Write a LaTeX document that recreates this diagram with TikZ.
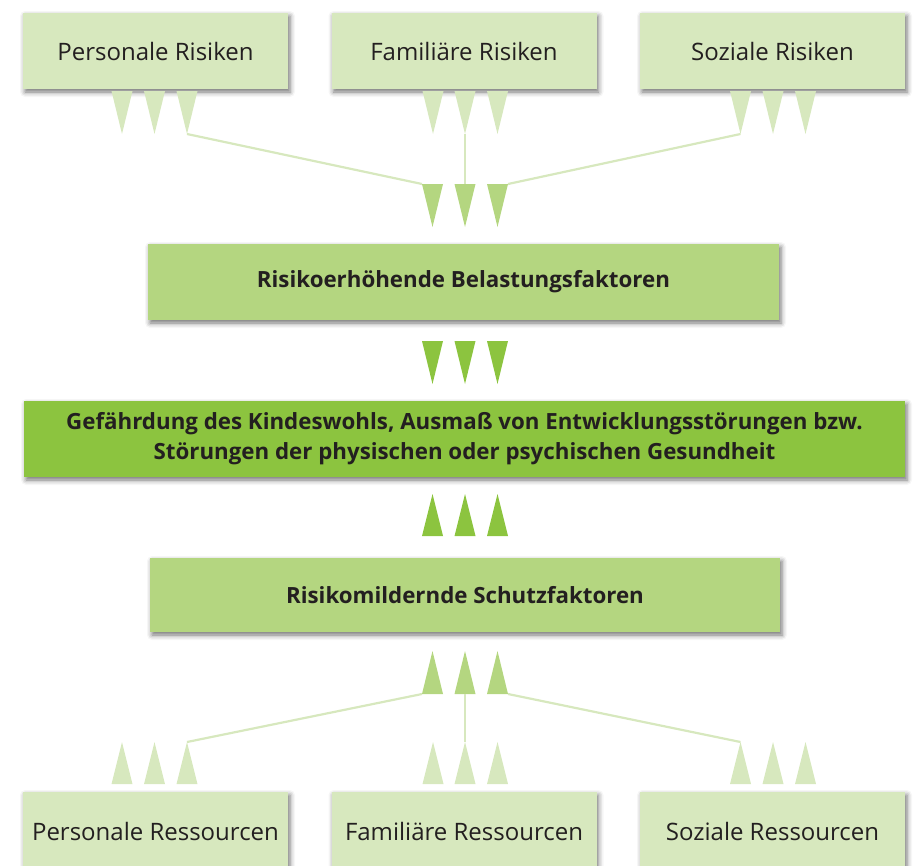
\documentclass[tikz,border=0pt]{standalone}
\usepackage{fontspec}
\setmainfont{Open Sans}
\usetikzlibrary{shadows.blur}
\definecolor{lightg}{RGB}{215,232,190}
\definecolor{midg}{RGB}{180,214,128}
\definecolor{darkg}{RGB}{140,196,63}
\definecolor{txt}{RGB}{35,31,32}
\newcommand\dtri[5]{\fill[#5] (#2-10.5,#3) coordinate (#1l) -- (#2+10.5,#3) coordinate (#1r) -- (#2,#4) coordinate (#1t) -- cycle;}
\newcommand\utri[5]{\fill[#5] (#2-10.5,#3) coordinate (#1l) -- (#2+10.5,#3) coordinate (#1r) -- (#2,#4) coordinate (#1t) -- cycle;}
\begin{document}
\begin{tikzpicture}[x=1pt,y=-1pt,
  box/.style={draw=none, inner sep=0pt, text=txt, align=center,
    blur shadow={shadow xshift=2pt, shadow yshift=-3pt, shadow blur radius=5pt, shadow opacity=55}},
  small/.style={box, fill=lightg, minimum width=265pt, minimum height=76pt, font=\fontsize{24}{28}\selectfont},
  big/.style={box, minimum height=76pt, font=\bfseries\fontsize{22.3}{30}\selectfont},
  conn/.style={draw=lightg, line width=2.2pt}]
\useasboundingbox (0,0) rectangle (915,865);
% top boxes
\node[small] (pr) at (155.5,51) {Personale Risiken};
\node[small] (fr) at (464,51) {Familiäre Risiken};
\node[small] (sr) at (772.5,51) {Soziale Risiken};
% middle boxes
\node[big, fill=midg, minimum width=631pt] (bel) at (463.5,282) {Risikoerhöhende Belastungsfaktoren};
\node[big, fill=darkg, minimum width=881pt] (gef) at (464.5,439) {Gefährdung des Kindeswohls, Ausmaß von Entwicklungsstörungen bzw.\\Störungen der physischen oder psychischen Gesundheit};
\node[big, fill=midg, minimum width=630pt, minimum height=74pt] (sch) at (465,595) {Risikomildernde Schutzfaktoren};
% bottom boxes
\node[small, minimum height=78pt] (pres) at (155.5,831) {Personale Ressourcen};
\node[small, minimum height=78pt] (fres) at (464,831) {Familiäre Ressourcen};
\node[small, minimum height=78pt] (sres) at (772.5,831) {Soziale Ressourcen};
% top light triangles
\dtri{pa}{122}{91}{134}{lightg}
\dtri{pb}{154.5}{91}{134}{lightg}
\dtri{pc}{187}{91}{134}{lightg}
\dtri{fa}{433}{91}{134}{lightg}
\dtri{fb}{465}{91}{134}{lightg}
\dtri{fc}{497.5}{91}{134}{lightg}
\dtri{sa}{740.5}{91}{134}{lightg}
\dtri{sb}{773}{91}{134}{lightg}
\dtri{sc}{805.5}{91}{134}{lightg}
% medium down
\dtri{ma}{432.5}{184}{227}{midg}
\dtri{mb}{465}{184}{227}{midg}
\dtri{mc}{497.5}{184}{227}{midg}
% dark down
\dtri{da}{432.5}{341}{384}{darkg}
\dtri{db}{465}{341}{384}{darkg}
\dtri{dc}{497.5}{341}{384}{darkg}
% dark up
\utri{ua}{432.5}{536}{494}{darkg}
\utri{ub}{465}{536}{494}{darkg}
\utri{uc}{497.5}{536}{494}{darkg}
% medium up
\utri{na}{432.5}{694}{651}{midg}
\utri{nb}{465}{694}{651}{midg}
\utri{nc}{497.5}{694}{651}{midg}
% light up
\utri{qa}{122}{784}{742}{lightg}
\utri{qb}{154.5}{784}{742}{lightg}
\utri{qc}{187}{784}{742}{lightg}
\utri{ga}{433}{784}{742}{lightg}
\utri{gb}{465}{784}{742}{lightg}
\utri{gc}{497.5}{784}{742}{lightg}
\utri{ta}{740.5}{784}{742}{lightg}
\utri{tb}{773}{784}{742}{lightg}
\utri{tc}{805.5}{784}{742}{lightg}
% connectors
\draw[conn] (pct) -- (mal);
\draw[conn] (fbt) -- (mbt |- mbl);
\draw[conn] (sat) -- (mcr);
\draw[conn] (nal) -- (qct);
\draw[conn] (nbl -| nbt) -- (gbt);
\draw[conn] (ncr) -- (tat);
\end{tikzpicture}
\end{document}
